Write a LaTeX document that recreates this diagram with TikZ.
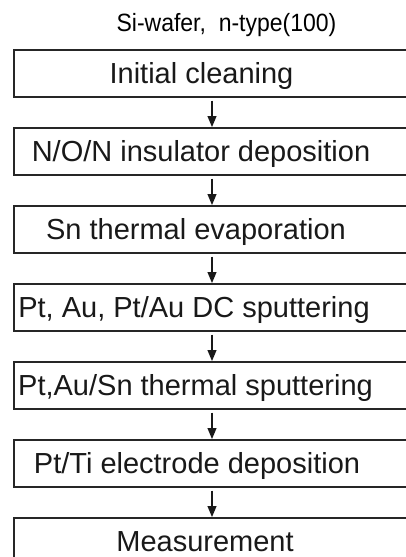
\documentclass[tikz,border=0pt]{standalone}
\usepackage{fontspec}
\setmainfont{Liberation Sans}
\newfontfamily\boxfont{Liberation Sans}
\newfontfamily\titlefont[FakeStretch=0.92]{Liberation Sans}
\usetikzlibrary{arrows.meta}
\begin{document}
\begin{tikzpicture}[x=1pt,y=-1pt,
  stepbox/.style={draw=black!85,line width=1.6pt,rectangle,inner sep=0pt,
    minimum width=420pt,minimum height=47pt,anchor=north west},
  steptext/.style={font=\boxfont\fontsize{29}{34}\selectfont,inner sep=0pt,anchor=base,text=black!90},
  arr/.style={draw=black!90,line width=1.2pt,-{Triangle[length=11pt,width=9pt]}}]
\useasboundingbox (0,0) rectangle (406,557);
\clip (0,0) rectangle (406,557);
\fill[white] (0,0) rectangle (406,557);
\node[font=\titlefont\fontsize{25}{28}\selectfont,inner sep=0pt,anchor=base] (title) at (226.5,31.5) {Si-wafer,~ n-type(100)};
\coordinate (ax) at (212,0);
\node[stepbox] (b1) at (13,49) {};
\node[stepbox] (b2) at (13,127) {};
\node[stepbox] (b3) at (13,205) {};
\node[stepbox] (b4) at (13,283) {};
\node[stepbox] (b5) at (13,361) {};
\node[stepbox] (b6) at (13,439) {};
\node[stepbox] (b7) at (13,517) {};
\node[steptext] (t1) at (201.5,83) {Initial cleaning};
\node[steptext] (t2) at (201,161) {N/O/N insulator deposition};
\node[steptext] (t3) at (196,239) {Sn thermal evaporation};
\node[steptext] (t4) at (194,317) {Pt, Au, Pt/Au DC sputtering};
\node[steptext] (t5) at (195.5,395) {Pt,Au/Sn thermal sputtering};
\node[steptext] (t6) at (197,473) {Pt/Ti electrode deposition};
\node[steptext] (t7) at (205,551) {Measurement};
\draw[arr] ([yshift=-3pt]b1.south -| ax) -- (b2.north -| ax);
\draw[arr] ([yshift=-3pt]b2.south -| ax) -- (b3.north -| ax);
\draw[arr] ([yshift=-3pt]b3.south -| ax) -- (b4.north -| ax);
\draw[arr] ([yshift=-3pt]b4.south -| ax) -- (b5.north -| ax);
\draw[arr] ([yshift=-3pt]b5.south -| ax) -- (b6.north -| ax);
\draw[arr] ([yshift=-3pt]b6.south -| ax) -- (b7.north -| ax);
\end{tikzpicture}
\end{document}
